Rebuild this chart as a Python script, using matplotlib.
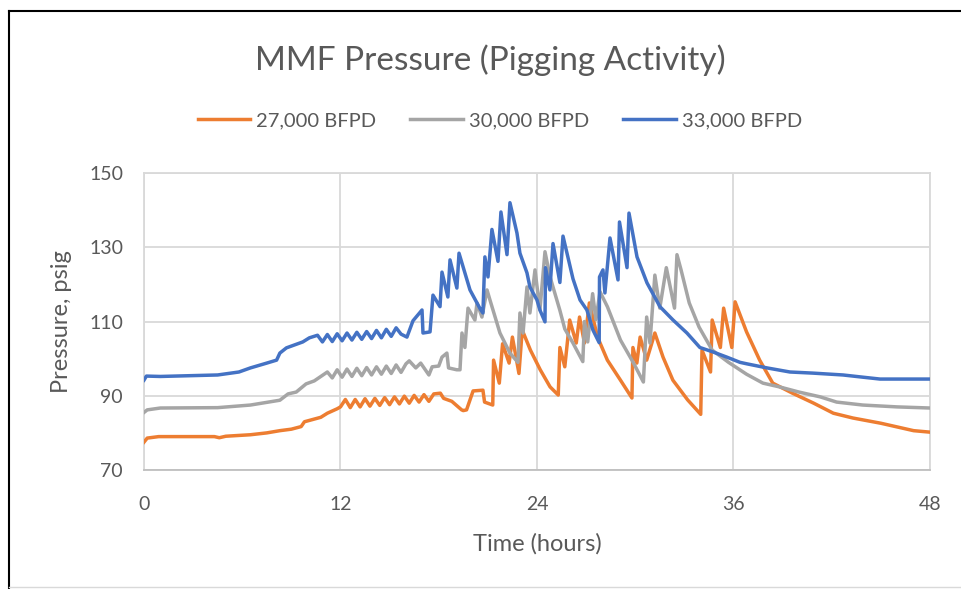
import matplotlib.pyplot as plt
from matplotlib.lines import Line2D

# values (time in hours, pressure in psig)
t_27 = [0, 0.2, 0.9, 4.3, 4.6, 5.0, 6.5, 7.5, 8.3, 9.0, 9.6, 9.8, 10.3, 10.8, 11.2, 11.8,
        12.0, 12.3, 12.6, 12.9, 13.2, 13.5, 13.8, 14.1, 14.4, 14.7, 15.0, 15.3, 15.6, 15.9,
        16.2, 16.5, 16.8, 17.1, 17.4, 17.7, 18.1, 18.3, 18.8, 19.4, 19.5, 19.7, 20.1, 20.7,
        20.8, 21.3, 21.35, 21.7, 21.9, 22.3, 22.5, 22.9, 23.1, 23.6, 24.2, 24.8, 25.3,
        25.4, 25.7, 26.0, 26.4, 26.6, 26.9, 27.2, 27.7, 28.3, 29.1, 29.8,
        29.86, 30.1, 30.3, 30.7, 31.2, 31.7, 32.3, 33.2, 34.0,
        34.08, 34.6, 34.7, 35.2, 35.4, 35.9, 36.1, 36.8, 37.6, 38.4, 39.6, 40.9, 42.1,
        43.3, 45.0, 47.0, 48.0]
p_27 = [77.5, 78.6, 79.0, 79.0, 78.7, 79.1, 79.5, 80.0, 80.6, 81.0, 81.7, 83.0, 83.6, 84.2, 85.3, 86.5,
        87.0, 89.0, 86.8, 89.0, 87.0, 89.2, 87.2, 89.3, 87.4, 89.5, 87.6, 89.7, 87.8, 89.9,
        88.0, 90.1, 88.3, 90.3, 88.5, 90.5, 90.7, 89.3, 88.5, 86.2, 86.0, 86.2, 91.3, 91.5,
        88.3, 87.5, 99.6, 93.4, 104.0, 98.8, 105.8, 96.0, 107.7, 102.3, 97.0, 92.4, 90.2,
        103.0, 97.8, 110.4, 104.2, 111.2, 104.2, 115.0, 105.8, 99.6, 94.2, 89.4,
        103.0, 98.8, 105.8, 99.6, 106.9, 100.4, 94.2, 88.9, 85.0,
        102.3, 96.4, 110.4, 103.0, 113.6, 103.0, 115.3, 107.2, 99.6, 93.4, 90.7, 88.0, 85.3,
        84.0, 82.6, 80.6, 80.2]

t_30 = [0, 0.2, 1.0, 4.5, 6.5, 8.3, 8.8, 9.3, 9.9, 10.4, 10.9,
        11.2, 11.5, 11.8, 12.1, 12.4, 12.7, 13.0, 13.3, 13.6, 13.9, 14.2, 14.5, 14.8, 15.1,
        15.4, 15.7, 16.0, 16.2, 16.6, 16.9, 17.4, 17.6, 18.0, 18.2, 18.5, 18.6, 19.1,
        19.3, 19.42, 19.6, 19.79, 20.21, 20.34, 20.64, 20.95, 21.13, 21.74, 22.35, 22.84,
        22.96, 23.15, 23.39, 23.57, 23.88, 24.18, 24.49, 24.8, 25.4, 25.7, 26.2, 26.8,
        26.9, 27.1, 27.4, 27.6, 27.85, 28.3, 29.1, 29.9, 30.5,
        30.7, 30.9, 31.2, 31.5, 31.9, 32.4, 32.55, 32.8, 33.3, 33.9, 34.7, 35.7, 36.8,
        37.8, 38.8, 40.0, 41.3, 42.3, 43.9, 46.0, 48.0]
p_30 = [85.5, 86.2, 86.7, 86.8, 87.5, 88.8, 90.5, 91.0, 93.2, 94.0, 95.5,
        96.4, 94.8, 97.0, 95.0, 97.2, 95.2, 97.4, 95.4, 97.6, 95.6, 97.8, 95.8, 98.0, 96.0,
        98.3, 96.3, 98.6, 99.4, 97.5, 98.8, 95.6, 97.8, 98.0, 100.4, 101.5, 97.5, 97.0,
        97.0, 106.9, 103.0, 113.6, 110.4, 115.0, 111.2, 118.5, 115.8, 106.9, 101.5, 99.0,
        112.3, 106.9, 119.3, 112.3, 123.9, 113.1, 128.8, 122.0, 113.0, 108.0, 104.2, 99.2,
        110.0, 104.5, 117.5, 110.5, 118.0, 114.0, 105.0, 98.8, 93.7,
        111.2, 104.2, 122.5, 113.6, 124.5, 113.6, 128.0, 123.9, 115.0, 108.5, 102.3, 99.0, 95.8,
        93.4, 92.4, 91.0, 89.7, 88.3, 87.5, 87.0, 86.7]

t_33 = [0, 0.15, 1.0, 4.5, 5.8, 6.5, 7.5, 8.1, 8.3, 8.7, 9.7, 10.1,
        10.6, 10.9, 11.2, 11.5, 11.8, 12.1, 12.4, 12.7, 13.0, 13.3, 13.6, 13.9, 14.2, 14.5,
        14.8, 15.1, 15.4, 15.7, 16.06, 16.43, 16.98, 17.04, 17.47, 17.65, 18.08, 18.2,
        18.56, 18.69, 19.11, 19.24, 19.91, 20.52, 20.7, 20.82, 21.01, 21.25, 21.62, 21.8,
        22.17, 22.35, 22.78, 22.96, 23.39, 23.57, 24.0, 24.18, 24.49,
        24.52, 24.79, 24.98, 25.4, 25.59, 26.2, 26.63, 27.05, 27.42, 27.8,
        27.82, 28.03, 28.15, 28.46, 28.95, 29.04, 29.5, 29.62, 30.11, 30.72, 31.51,
        32.31, 33.16, 33.95, 34.75, 35.6, 36.4, 36.82, 38.05, 39.45, 40.85, 42.69,
        43.91, 44.95, 48.0]
p_33 = [94.2, 95.3, 95.2, 95.6, 96.4, 97.5, 98.8, 99.6, 101.5, 102.9, 104.5, 105.6,
        106.3, 104.5, 106.5, 104.6, 106.7, 104.8, 106.9, 105.0, 107.1, 105.2, 107.3, 105.4, 107.6, 105.6,
        107.9, 106.0, 108.3, 106.6, 105.8, 110.2, 113.1, 106.9, 107.2, 117.1, 114.0, 123.3,
        116.6, 126.6, 119.0, 128.4, 118.5, 113.5, 112.3, 127.4, 122.0, 134.8, 126.2, 139.5,
        128.0, 142.0, 133.8, 128.4, 123.1, 119.3, 115.8, 113.1, 109.9,
        124.5, 118.5, 131.0, 120.5, 133.0, 121.5, 115.8, 113.1, 107.7, 104.3,
        122.0, 123.9, 117.7, 132.5, 121.2, 136.8, 124.5, 139.2, 127.4, 120.4, 114.0,
        110.4, 106.9, 103.0, 101.8, 100.4, 99.0, 98.6, 97.5, 96.4, 96.1, 95.6,
        95.0, 94.5, 94.5]

series = ["27,000 BFPD", "30,000 BFPD", "33,000 BFPD"]
colors = ["#ED7D31", "#A5A5A5", "#4472C4"]

plt.rcParams['font.family'] = ['Lato', 'DejaVu Sans']
txt = '#595959'

fig = plt.figure(figsize=(9.61, 5.89), dpi=100)
ax = fig.add_axes([0.1498, 0.2020, 0.8179, 0.5043])

for t, p, c in zip([t_27, t_30, t_33], [p_27, p_30, p_33], colors):
    ax.plot(t, p, color=c, lw=2.5, solid_joinstyle='round', zorder=3)

ax.set_xlim(0, 48)
ax.set_ylim(70, 150)
ax.set_xticks([0, 12, 24, 36, 48])
ax.set_yticks([70, 90, 110, 130, 150])
ax.grid(True, color='#D9D9D9', lw=1.3, zorder=0)
for s in ax.spines.values():
    s.set_color('#D9D9D9')
    s.set_linewidth(1.3)
ax.spines['bottom'].set_color('#BFBFBF')
ax.tick_params(length=0, labelsize=14, labelcolor=txt)
ax.tick_params(axis='y', pad=15)
ax.tick_params(axis='x', pad=19)
ax.set_xlabel("Time (hours)", fontsize=17, color=txt, labelpad=14)
ax.set_ylabel("Pressure, psig", fontsize=17, color=txt, labelpad=12)

fig.text(0.51, 0.881, "MMF Pressure (Pigging Activity)", ha='center', va='baseline',
         fontsize=24, color=txt)

handles = [Line2D([], [], color=c, lw=2.5) for c in colors]
fig.legend(handles, series, loc='center', bbox_to_anchor=(0.52, 0.795), ncol=3,
           frameon=False, fontsize=14.5, labelcolor=txt, handlelength=2.6,
           columnspacing=1.7, handletextpad=0.3)

# outer frame of the chart object
fig.add_artist(Line2D([9/961, 9/961], [0, 1 - 11/589], color='black', lw=1.5))
fig.add_artist(Line2D([9/961, 1], [1 - 11/589, 1 - 11/589], color='black', lw=1.5))
fig.add_artist(Line2D([9/961, 1], [2/589, 2/589], color='#D9D9D9', lw=1))

fig.savefig("out.png", dpi=100)
